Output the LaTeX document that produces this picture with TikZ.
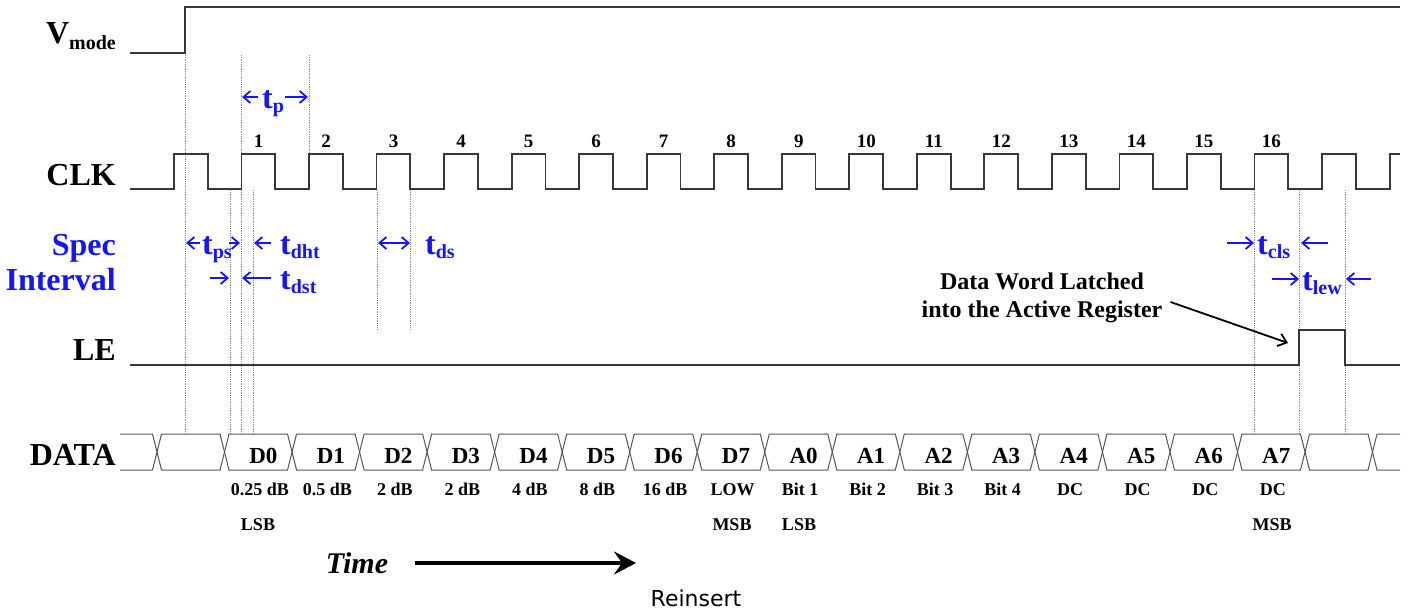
\documentclass[tikz,border=0pt]{standalone}
\usepackage{fontspec}
\setmainfont{Liberation Serif}
\newfontfamily\reinsertfont{DejaVu Sans}
\usepackage{xcolor}
\usepackage{tikz}
\usetikzlibrary{arrows.meta}
\definecolor{spec}{HTML}{1414FF}
\definecolor{wave}{HTML}{383838}
\definecolor{guide}{HTML}{8C8C8C}
\newcommand{\fsz}[1]{\fontsize{#1}{#1}\selectfont}
\newcommand{\tspec}[1]{{\fsz{32}t}{\fsz{20}\raisebox{-4pt}{#1}}}

\begin{document}
\begin{tikzpicture}[x=1pt, y=-1pt,
  wave/.style={draw=wave, line width=1.8pt},
  datacell/.style={draw=wave!85, line width=1pt},
  guideline/.style={draw=guide, densely dotted, line width=0.8pt},
  barb/.tip={Straight Barb[length=7pt,width=12pt]},
  specarrow/.style={draw=spec, line width=1.8pt, -barb},
  siglbl/.style={anchor=base east, inner sep=0pt, font=\fsz{32}\bfseries},
  speclbl/.style={anchor=base west, inner sep=0pt, text=spec, font=\bfseries},
  clknum/.style={anchor=base, inner sep=0pt, font=\fsz{19}\bfseries},
  datalbl/.style={anchor=base, inner sep=0pt, font=\fsz{23}\bfseries},
  vallbl/.style={anchor=base, inner sep=0pt, font=\fsz{18}\bfseries}]
\useasboundingbox (0,0) rectangle (1411,614);

% signal names on the left
\node[siglbl] (vmode) at (116,43) {V\fsz{20}\raisebox{-6pt}{mode}};
\node[siglbl] (clk) at (116,185) {CLK};
\node[siglbl, text=spec] (spec) at (116,255) {Spec};
\node[siglbl, text=spec] (interval) at (116,290) {Interval};
\node[siglbl] (le) at (116,360) {LE};
\node[siglbl] (data) at (116,465) {DATA};

% dotted guide lines
\draw[guideline] (185,55) -- (185,434);
\draw[guideline] (241,55) -- (241,434);
\draw[guideline] (309,55) -- (309,154);
\draw[guideline] (230,190) -- (230,434);
\draw[guideline] (253,190) -- (253,434);
\draw[guideline] (377,190) -- (377,330);
\draw[guideline] (410,190) -- (410,330);
\draw[guideline] (1254,190) -- (1254,434);
\draw[guideline] (1299,190) -- (1299,434);
\draw[guideline] (1345,190) -- (1345,434);

% Vmode, CLK and LE waveforms
\draw[wave] (130,53) -- (185,53) -- (185,7) -- (1400,7);
\draw[wave] (130,189) foreach \k in {0,...,17} {
  -- ({174+67.53*\k},189) -- ({174+67.53*\k},154)
  -- ({207.8+67.53*\k},154) -- ({207.8+67.53*\k},189) }
  -- (1389.6,189) -- (1389.6,154) -- (1400,154);
\foreach \n in {1,...,16}
  \node[clknum] (num\n) at ({191+67.53*\n},147) {\n};
\draw[wave] (130,365) -- (1299,365) -- (1299,330) -- (1345,330) -- (1345,365) -- (1400,365);

% DATA bus
\draw[datacell] (120,434) -- (152.5,434) -- (157,452) -- (152.5,470) -- (120,470);
\foreach \k in {0,...,17}
  \draw[datacell] ({157+67.53*\k},452) -- ({161.5+67.53*\k},434) -- ({220+67.53*\k},434)
    -- ({224.53+67.53*\k},452) -- ({220+67.53*\k},470) -- ({161.5+67.53*\k},470) -- cycle;
\draw[datacell] (1400,434) -- (1377,434) -- (1372.5,452) -- (1377,470) -- (1400,470);
\foreach \lab/\val [count=\i] in {D0/0.25 dB, D1/0.5 dB, D2/2 dB, D3/2 dB, D4/4 dB,
    D5/8 dB, D6/16 dB, D7/LOW, A0/Bit 1, A1/Bit 2, A2/Bit 3, A3/Bit 4,
    A4/DC, A5/DC, A6/DC, A7/DC} {
  \node[datalbl] (bit\i) at ({195.8+67.53*\i},463) {\lab};
  \node[vallbl] (val\i) at ({192.3+67.53*\i},495) {\val};
}
\node[vallbl] (lsbd) at (258,530) {LSB};
\node[vallbl] (msbd) at (732,530) {MSB};
\node[vallbl] (lsba) at (799,530) {LSB};
\node[vallbl] (msba) at (1272,530) {MSB};

% spec intervals
\node[speclbl] (tp) at (262,108) {\tspec{p}};
\coordinate (tpa) at (242,97);
\coordinate (tpb) at (308,97);
\draw[specarrow] ([shift={(-4pt,11pt)}]tp.base west) -- (tpa);
\draw[specarrow] ([shift={(1pt,11pt)}]tp.base east) -- (tpb);

\node[speclbl] (tps) at (202,254) {\tspec{ps}};
\coordinate (tpsa) at (186,243);
\coordinate (tpsb) at (240,243);
\draw[specarrow] ([shift={(-2pt,11pt)}]tps.base west) -- (tpsa);
\draw[specarrow] ([shift={(-3pt,11pt)}]tps.base east) -- (tpsb);

\node[speclbl] (tdht) at (280,254) {\tspec{dht}};
\coordinate (tdhta) at (254,243);
\draw[specarrow] ([shift={(-9pt,11pt)}]tdht.base west) -- (tdhta);

\node[speclbl] (tdst) at (280,289) {\tspec{dst}};
\coordinate (tdsta) at (242,278);
\coordinate (tdstb) at (210,278);
\coordinate (tdstc) at (229,278);
\draw[specarrow] ([shift={(-9pt,11pt)}]tdst.base west) -- (tdsta);
\draw[specarrow] (tdstb) -- (tdstc);

\node[speclbl] (tds) at (425,254) {\tspec{ds}};
\coordinate (tdsa) at (378,243);
\coordinate (tdsb) at (410,243);
\draw[specarrow, barb-barb] (tdsa) -- (tdsb);

\node[speclbl] (tcls) at (1257,254) {\tspec{cls}};
\coordinate (tclsa) at (1227,243);
\coordinate (tclsb) at (1328,243);
\coordinate (tclsc) at (1301,243);
\draw[specarrow] (tclsa) -- ([shift={(-3pt,11pt)}]tcls.base west);
\draw[specarrow] (tclsb) -- (tclsc);

\node[speclbl] (tlew) at (1302,290) {\tspec{lew}};
\coordinate (tlewa) at (1272,279);
\coordinate (tlewb) at (1371,279);
\draw[specarrow] (tlewa) -- ([shift={(-3pt,11pt)}]tlew.base west);
\draw[specarrow] (tlewb) -- ([shift={(4pt,11pt)}]tlew.base east);

% latch note
\node[align=center, inner sep=2pt, font=\fsz{24}\bfseries] (latch) at (1042,298)
  {Data Word Latched\\[4pt]into the Active Register};
\coordinate (lehigh) at (1288,343);
\draw[line width=1.8pt, -{Straight Barb[length=8pt,width=13pt]}] ([shift={(6pt,-4pt)}]latch.east) -- (lehigh);

% time axis
\node[anchor=base, inner sep=0pt, font=\fsz{30}\bfseries\itshape] (timelbl) at (357,573) {Time};
\coordinate (timeend) at (636,563);
\draw[line width=4pt, -{Stealth[length=22pt,width=23pt,inset=8pt]}] (415,563) -- (timeend);

\node[anchor=base, inner sep=0pt, font=\reinsertfont\fsz{22}] (reinsert) at (696,606) {Reinsert};
\end{tikzpicture}
\end{document}
